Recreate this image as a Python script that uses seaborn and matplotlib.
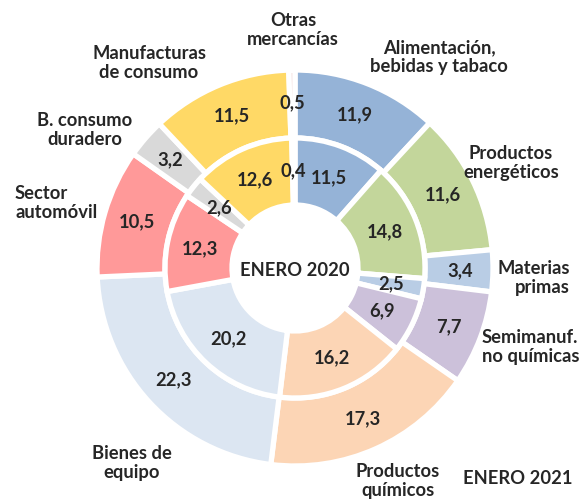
import numpy as np
import matplotlib.pyplot as plt
import seaborn as sns

sns.set_style("white")
plt.rcParams['font.family'] = ['Lato', 'DejaVu Sans']

# Data: share of exports by sector (%)
sectors = ["Alimentación,\nbebidas y tabaco", "Productos\nenergéticos", "Materias\nprimas",
           "Semimanuf.\nno químicas", "Productos\nquímicos", "Bienes de\nequipo",
           "Sector\nautomóvil", "B. consumo\nduradero", "Manufacturas\nde consumo",
           "Otras\nmercancías"]
enero_2021 = [11.9, 11.6, 3.4, 7.7, 17.3, 22.3, 10.5, 3.2, 11.5, 0.5]
enero_2020 = [11.5, 14.8, 2.5, 6.9, 16.2, 20.2, 12.3, 2.6, 12.6, 0.4]
colors = ["#95B3D7", "#C3D69B", "#B9CDE5", "#CCC1DA", "#FCD5B5",
          "#DCE6F2", "#FF9999", "#D9D9D9", "#FFD966", "#F2DCDB"]

# label placement (pixels relative to the ring centre, y up)
label_pos = [(144, 211), (216, 105), (275, -10), (187, -79), (103, -213),
             (-163, -195), (-280, 65), (-210, 138), (-146, 205), (-2, 238)]
label_ha = ["center", "center", "right", "left", "center",
            "center", "left", "center", "center", "center"]

fs = 13.2

fig = plt.figure(figsize=(5.81, 5.04), dpi=100)
ax = fig.add_axes([0, 0, 1, 1])

r_out, r_mid, r_in = 198, 130, 63

outer, _ = ax.pie(enero_2021, radius=r_out, colors=colors, startangle=90, counterclock=False,
                  wedgeprops=dict(width=r_out - r_mid, edgecolor="white", linewidth=3.8))
inner, _ = ax.pie(enero_2020, radius=r_mid, colors=colors, startangle=90, counterclock=False,
                  wedgeprops=dict(width=r_mid - r_in, edgecolor="white", linewidth=3.8))

def put_values(wedges, values, r):
    for w, v in zip(wedges, values):
        ang = np.deg2rad((w.theta1 + w.theta2) / 2)
        ax.text(r * np.cos(ang), r * np.sin(ang), f"{v:.1f}".replace(".", ","),
                ha="center", va="center", fontsize=fs, fontweight="bold")

put_values(outer, enero_2021, 165)
put_values(inner, enero_2020, 97)

for name, (x, y), ha in zip(sectors, label_pos, label_ha):
    ax.text(x, y, name, ha=ha, va="center", multialignment=ha, fontsize=fs,
            fontweight="bold", linespacing=1.1)

ax.text(0, -2, "ENERO 2020", ha="center", va="center", fontsize=fs, fontweight="bold")
ax.text(223, -210, "ENERO 2021", ha="center", va="center", fontsize=fs, fontweight="bold")

ax.set_xlim(-295, 286)
ax.set_ylim(-236, 268)
ax.set_aspect("equal")
ax.axis("off")

fig.savefig("out.png", dpi=100)
